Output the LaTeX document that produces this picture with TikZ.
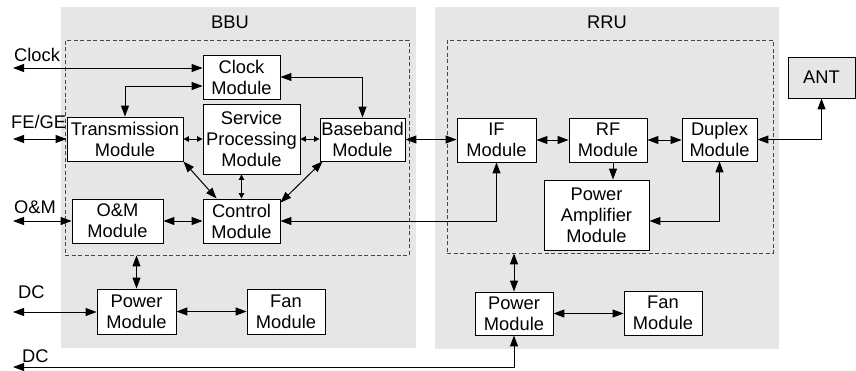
\documentclass[tikz,border=0pt]{standalone}
\usepackage{fontspec}
\setmainfont{Liberation Sans}
\usetikzlibrary{positioning, calc, arrows.meta}
\definecolor{unitgray}{RGB}{230, 230, 230}
\definecolor{dashgray}{RGB}{70, 70, 70}

\begin{document}
\begin{tikzpicture}[x=1pt, y=-1pt,
        every node/.style={font=\fontsize{18.3}{21}\selectfont, inner sep=0pt, align=center},
        unit/.style={fill=unitgray, minimum width=#1},
        inner/.style={draw=dashgray, dashed, dash pattern=on 4pt off 2.5pt, line width=0.9pt},
        module/.style={draw, fill=white, line width=0.9pt},
        both/.style={line width=1pt, {Triangle[length=11pt,width=8pt]}-{Triangle[length=11pt,width=8pt]}},
        small/.style={line width=1pt, {Triangle[length=5.5pt,width=5.5pt]}-{Triangle[length=5.5pt,width=5.5pt]}},
        single/.style={line width=1pt, -{Triangle[length=11pt,width=8pt]}}]
    \useasboundingbox (0,0) rectangle (856,370);

    \node[unit=355pt, minimum height=341pt] (bbu) at (238.5,177.5) {};
    \node[unit=344pt, minimum height=342pt] (rru) at (607,178) {};
    \node (bbutitle) at (230,22) {BBU};
    \node (rrutitle) at (607,22) {RRU};
    \node[inner, minimum width=344pt, minimum height=215pt] (bbuin) at (237,147.5) {};
    \node[inner, minimum width=326pt, minimum height=213pt] (rruin) at (610,146.5) {};

    \node[module, fill=unitgray, minimum width=67pt, minimum height=41pt] (ant) at (821.5,77.5) {ANT};

    \node[module, minimum width=77pt, minimum height=44pt] (clk) at (241.5,77) {Clock\\Module};
    \node[module, minimum width=97pt, minimum height=70pt] (svc) at (251.5,139) {Service\\Processing\\Module};
    \node[module, minimum width=116pt, minimum height=44pt] (trans) at (125,139) {Transmission\\Module};
    \node[module, minimum width=85pt, minimum height=43pt] (bb) at (362.5,139.5) {Baseband\\Module};
    \node[module, minimum width=91pt, minimum height=44pt] (om) at (117.5,221) {O\&M\\Module};
    \node[module, minimum width=77pt, minimum height=44pt] (ctrl) at (241.5,221) {Control\\Module};
    \node[module, minimum width=79pt, minimum height=45pt] (pwra) at (136.5,311.5) {Power\\Module};
    \node[module, minimum width=78pt, minimum height=45pt] (fana) at (286,311.5) {Fan\\Module};

    \node[module, minimum width=79pt, minimum height=44pt] (ifm) at (496.5,140) {IF\\Module};
    \node[module, minimum width=78pt, minimum height=44pt] (rfm) at (608,140) {RF\\Module};
    \node[module, minimum width=75pt, minimum height=43pt] (dup) at (719.5,139.5) {Duplex\\Module};
    \node[module, minimum width=105pt, minimum height=70pt] (pa) at (596.5,215) {Power\\Amplifier\\Module};
    \node[module, minimum width=78pt, minimum height=43pt] (pwrb) at (514,313.5) {Power\\Module};
    \node[module, minimum width=78pt, minimum height=44pt] (fanb) at (663,313) {Fan\\Module};

    \node[anchor=west] (clklabel) at (14,55) {Clock};
    \node[anchor=west] (fegelabel) at (11,122) {FE/GE};
    \node[anchor=west] (omlabel) at (14,207) {O\&M};
    \node[anchor=west] (dcalabel) at (18,292) {DC};
    \node[anchor=west] (dcblabel) at (22,356) {DC};

    \coordinate (clkext) at (13,68);
    \coordinate (fegeext) at (13,139);
    \coordinate (omext) at (13,221);
    \coordinate (dcaext) at (13,312);
    \coordinate (dcbext) at (13,367);

    \draw[both] (clkext) -- (clkext -| clk.west);
    \draw[both] ([yshift=-9pt]clk.west) -| (trans.north);
    \draw[both] (clk.east) -| (bb.north);
    \draw[both] (fegeext) -- (trans.west);
    \draw[small] (trans.east) -- (svc.west);
    \draw[small] (svc.east) -- (svc.east -| bb.west);
    \draw[both] (bb.east) -- (bb.east -| ifm.west);
    \draw[both] (trans.south east) -- ([xshift=14pt]ctrl.north west);
    \draw[small] (ctrl.north |- svc.south) -- (ctrl.north);
    \draw[both] ([xshift=3pt]bb.south west) -- ([yshift=-4pt]ctrl.north east);
    \draw[both] (omext) -- (om.west);
    \draw[both] (om.east) -- (ctrl.west);
    \draw[both] (ctrl.east) -| (ifm.south);
    \draw[both] (pwra.north |- bbuin.south) -- (pwra.north);
    \draw[both] (dcaext) -- (dcaext -| pwra.west);
    \draw[both] (pwra.east) -- (fana.west);

    \draw[both] (ifm.east) -- (rfm.west);
    \draw[both] (rfm.east) -- (rfm.east -| dup.west);
    \draw[single] ([xshift=5pt]rfm.south) -- ([xshift=5pt]rfm.south |- pa.north);
    \draw[both] ([yshift=-6pt]pa.east) -| (dup.south);
    \draw[both] (dup.east) -| (ant.south);
    \draw[both] (pwrb.north |- rruin.south) -- (pwrb.north);
    \draw[both] (pwrb.east) -- (pwrb.east -| fanb.west);
    \draw[both] (dcbext) -| (pwrb.south);
\end{tikzpicture}
\end{document}
